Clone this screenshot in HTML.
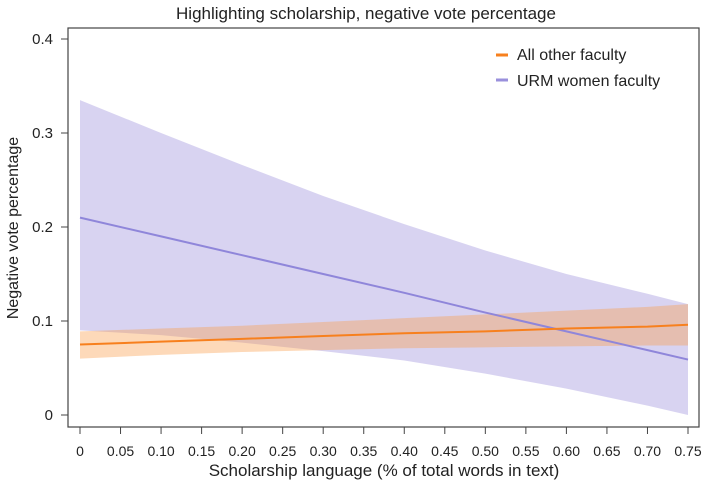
<!DOCTYPE html>
<html><head><meta charset="utf-8"><style>
body{margin:0;background:#fff;font-family:"Liberation Sans",sans-serif}
text{font-family:"Liberation Sans",sans-serif;fill:#222}
</style></head><body>
<svg id="chart" width="702" height="488" xmlns="http://www.w3.org/2000/svg">
<text x="366" y="19" font-size="17" text-anchor="middle">Highlighting scholarship, negative vote percentage</text>
<rect x="68" y="28" width="631" height="399" fill="none" stroke="#444" stroke-width="1.2"/>
<g id="bands"></g><g id="lines"></g><g id="axes"></g>
<text transform="translate(18,228) rotate(-90)" font-size="16" text-anchor="middle">Negative vote percentage</text>
<text x="384" y="476" font-size="17" text-anchor="middle">Scholarship language (% of total words in text)</text>
<g>
<line x1="496" y1="55" x2="508" y2="55" stroke="#f7801e" stroke-width="3"/>
<text x="517" y="60" font-size="16">All other faculty</text>
<line x1="496" y1="80" x2="508" y2="80" stroke="#9a90dc" stroke-width="3"/>
<text x="517" y="86" font-size="16">URM women faculty</text>
</g>
</svg>
<script>
const xs=[0,0.1,0.2,0.3,0.4,0.5,0.6,0.7,0.75];
const urmFit=[0.21,0.190,0.170,0.150,0.130,0.109,0.089,0.069,0.059];
const urmUpper=[0.335,0.300,0.266,0.233,0.203,0.175,0.150,0.129,0.118];
const urmLower=[0.09,0.085,0.077,0.068,0.058,0.044,0.028,0.010,0.0];
const otherFit=[0.075,0.078,0.081,0.084,0.087,0.089,0.092,0.094,0.096];
const otherUpper=[0.089,0.092,0.095,0.099,0.103,0.107,0.111,0.115,0.118];
const otherLower=[0.06,0.064,0.067,0.069,0.071,0.072,0.073,0.074,0.074];
const xTicks=[0,0.05,0.10,0.15,0.20,0.25,0.30,0.35,0.40,0.45,0.50,0.55,0.60,0.65,0.70,0.75];
const xTickLabels=["0","0.05","0.10","0.15","0.20","0.25","0.30","0.35","0.40","0.45","0.50","0.55","0.60","0.65","0.70","0.75"];
const yTicks=[0,0.1,0.2,0.3,0.4];
const yTickLabels=["0","0.1","0.2","0.3","0.4"];
const X=v=>80+v*(688-80)/0.75, Y=v=>415-v*940;
const NS="http://www.w3.org/2000/svg";
function mk(t,a,p){const e=document.createElementNS(NS,t);for(const k in a)e.setAttribute(k,a[k]);p.appendChild(e);return e;}
const bands=document.getElementById('bands'),lines=document.getElementById('lines'),axes=document.getElementById('axes');
function band(u,l,fill,op,name){const pts=xs.map((x,i)=>X(x)+','+Y(u[i])).concat(xs.map((x,i)=>X(x)+','+Y(l[i])).reverse());
const p=mk('polygon',{points:pts.join(' '),fill:fill,'fill-opacity':op},bands);

}
band(urmUpper,urmLower,'#a89ee0',0.45,'urm-ci-band');
band(otherUpper,otherLower,'#f9a050',0.4,'other-ci-band');
function line(v,c,name){const p=mk('polyline',{points:xs.map((x,i)=>X(x)+','+Y(v[i])).join(' '),fill:'none',stroke:c,'stroke-width':2},lines);

}
line(urmFit,'#8f86da','urm-fit-line');
line(otherFit,'#f7801e','other-fit-line');
xTicks.forEach((t,i)=>{const l=mk('line',{x1:X(t),x2:X(t),y1:427,y2:434,stroke:'#444'},axes);


const tx=mk('text',{x:X(t),y:456,'font-size':14,'text-anchor':'middle'},axes);tx.textContent=xTickLabels[i];

});
yTicks.forEach((t,i)=>{const l=mk('line',{x1:61,x2:68,y1:Y(t),y2:Y(t),stroke:'#444'},axes);


const tx=mk('text',{x:53,y:Y(t)+5,'font-size':15,'text-anchor':'end'},axes);tx.textContent=yTickLabels[i];

});
</script>
</body></html>
